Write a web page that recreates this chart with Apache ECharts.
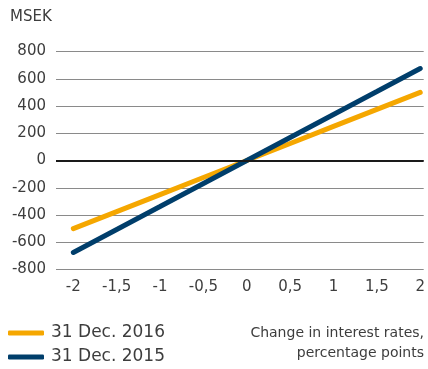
<!DOCTYPE html>
<html>
<head>
<meta charset="utf-8">
<script src="https://cdn.jsdelivr.net/npm/echarts@6/dist/echarts.min.js"></script>
<style>
html,body{margin:0;padding:0;background:#fff;}
#chart{width:428px;height:369px;}
</style>
</head>
<body>
<div id="chart"></div>
<script>
// Change in interest rates, percentage points
var rateShift = [-2, -1.5, -1, -0.5, 0, 0.5, 1, 1.5, 2];
// Effect in MSEK
var dec2016 = [-500, -375, -250, -125, 0, 125, 250, 375, 500];
var dec2015 = [-675, -506, -338, -169, 0, 169, 338, 506, 675];
var yTicks = [-800, -600, -400, -200, 0, 200, 400, 600, 800];
var seriesNames = ['31 Dec. 2016', '31 Dec. 2015'];

function pairs(xs, ys) {
  return xs.map(function (x, i) { return [x, ys[i]]; });
}

var font = '"DejaVu Sans", sans-serif';
var textColor = '#3d3d3d';
var chart = echarts.init(document.getElementById('chart'), null, {renderer: 'canvas'});

function legendAt(name, top) {
  return {
    orient: 'horizontal', left: 8, top: top, padding: 0,
    itemWidth: 36, itemHeight: 5, icon: 'roundRect', itemGap: 0,
    textStyle: {fontSize: 17, color: textColor, fontFamily: font, lineHeight: 18, padding: [0, 0, 0, 2]},
    data: [name]
  };
}

chart.setOption({
  animation: false,
  backgroundColor: '#fff',
  textStyle: {fontFamily: font},
  grid: {left: 56, right: 3, top: 51.5, bottom: 99.5, containLabel: false},
  legend: [legendAt(seriesNames[0], 324), legendAt(seriesNames[1], 348)],
  graphic: [
    {type: 'text', silent: true, x: 10, y: 17,
     style: {text: 'MSEK', fontSize: 15, fill: textColor, fontFamily: font, verticalAlign: 'middle'}},
    {type: 'text', silent: true, x: 424, y: 333,
     style: {text: 'Change in interest rates,', fontSize: 14, fill: textColor, fontFamily: font,
             align: 'right', verticalAlign: 'middle'}},
    {type: 'text', silent: true, x: 424, y: 353,
     style: {text: 'percentage points', fontSize: 14, fill: textColor, fontFamily: font,
             align: 'right', verticalAlign: 'middle'}}
  ],
  xAxis: {
    type: 'value', min: -2.2, max: 2.04,
    axisLine: {show: false}, axisTick: {show: false}, splitLine: {show: false},
    axisLabel: {
      customValues: rateShift, margin: 10, fontSize: 15, color: textColor, fontFamily: font,
      formatter: function (v) { return String(v).replace('.', ','); }
    }
  },
  yAxis: {
    type: 'value', min: yTicks[0], max: yTicks[yTicks.length - 1], interval: 200,
    axisLine: {show: false}, axisTick: {show: false},
    axisLabel: {margin: 10, fontSize: 15, color: textColor, fontFamily: font},
    splitLine: {show: true, lineStyle: {color: '#8a8a8a', width: 1}}
  },
  series: [
    {
      name: seriesNames[0], type: 'line', data: pairs(rateShift, dec2016),
      showSymbol: false, symbol: 'none', color: '#F5A700',
      lineStyle: {width: 5, color: '#F5A700', cap: 'round'},
      markLine: {
        silent: true, symbol: 'none', label: {show: false},
        lineStyle: {color: '#1a1a1a', width: 2, type: 'solid'},
        data: [{yAxis: 0}]
      }
    },
    {
      name: seriesNames[1], type: 'line', data: pairs(rateShift, dec2015),
      showSymbol: false, symbol: 'none', color: '#003E6B',
      lineStyle: {width: 5, color: '#003E6B', cap: 'round'}
    }
  ]
});
</script>
</body>
</html>
